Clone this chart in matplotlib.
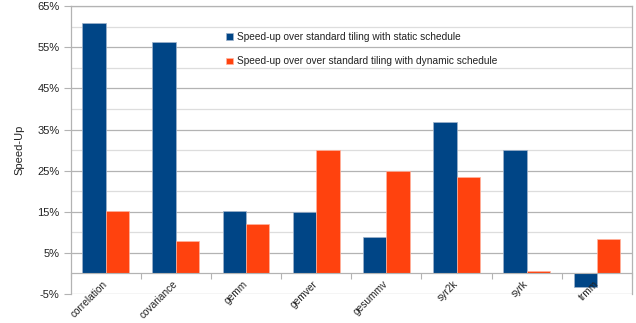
import matplotlib
matplotlib.use("Agg")
import matplotlib.pyplot as plt
import numpy as np
from matplotlib.ticker import FixedLocator, FuncFormatter

plt.rcParams['font.family'] = ['Liberation Sans', 'DejaVu Sans']

categories = ["correlation", "covariance", "gemm", "gemver", "gesummv", "syr2k", "syrk", "trmm"]
static_speedup = [61.0, 56.4, 15.3, 15.0, 8.9, 36.9, 30.1, -3.3]
dynamic_speedup = [15.3, 7.9, 12.1, 30.0, 25.0, 23.5, 0.6, 8.4]
series_labels = ["Speed-up over standard tiling with static schedule",
                 "Speed-up over over standard tiling with dynamic schedule"]
y_ticks = [-5, 5, 15, 25, 35, 45, 55, 65]

blue = "#004586"
orange = "#ff420e"
text_color = "#222222"

fig = plt.figure(figsize=(6.36, 3.23), dpi=100)
ax = fig.add_axes([0.111, 0.0898, 0.8827, 0.8912])

x = np.arange(len(categories))
w = 1.0 / 3.0
ax.bar(x - w / 2, static_speedup, width=w, color=blue, edgecolor="#9fb3cc",
       linewidth=0.5, label=series_labels[0], zorder=3)
ax.bar(x + w / 2, dynamic_speedup, width=w, color=orange, edgecolor="#ffb39f",
       linewidth=0.5, label=series_labels[1], zorder=3)

ax.set_xlim(-0.5, len(categories) - 0.5)
ax.set_ylim(-5, 65)

# horizontal grid: darker lines at labelled values, lighter in between
for v in range(-5, 66, 5):
    major = v in y_ticks
    ax.axhline(v, color="#b3b3b3" if major else "#dddddd", linewidth=0.9, zorder=1)

ax.yaxis.set_major_locator(FixedLocator(y_ticks))
ax.yaxis.set_major_formatter(FuncFormatter(lambda v, p: f"{int(v)}%"))
ax.tick_params(axis="y", direction="out", length=5, width=0.8, color="#b3b3b3",
               labelsize=8, labelcolor=text_color, pad=3)

# category axis sits on the zero line, its labels drawn above the bars
ax.spines["bottom"].set_position(("data", 0))
ax.spines["bottom"].set_color("#b3b3b3")
ax.spines["bottom"].set_zorder(4)
ax.xaxis.set_zorder(5)
ax.xaxis.set_major_locator(FixedLocator(x))
ax.xaxis.set_minor_locator(FixedLocator(np.arange(len(categories) + 1) - 0.5))
ax.set_xticklabels(categories, rotation=45, ha="right", va="center",
                   rotation_mode="anchor")
ax.tick_params(axis="x", which="major", length=0, labelsize=7.3,
               labelcolor=text_color, pad=6.5)
ax.tick_params(axis="x", which="minor", length=4, width=0.8, color="#b3b3b3")

for s in ["left", "right", "top"]:
    ax.spines[s].set_color("#b3b3b3")
    ax.spines[s].set_linewidth(0.9)

ax.set_ylabel("Speed-Up", fontsize=8, color=text_color, labelpad=9)

leg = ax.legend(loc="upper left", bbox_to_anchor=(0.27, 0.925), frameon=False,
                fontsize=7.3, handlelength=0.65, handleheight=0.65, handletextpad=0.45,
                labelspacing=1.45, borderaxespad=0)
for t in leg.get_texts():
    t.set_color(text_color)

fig.savefig("out.png", dpi=100)
